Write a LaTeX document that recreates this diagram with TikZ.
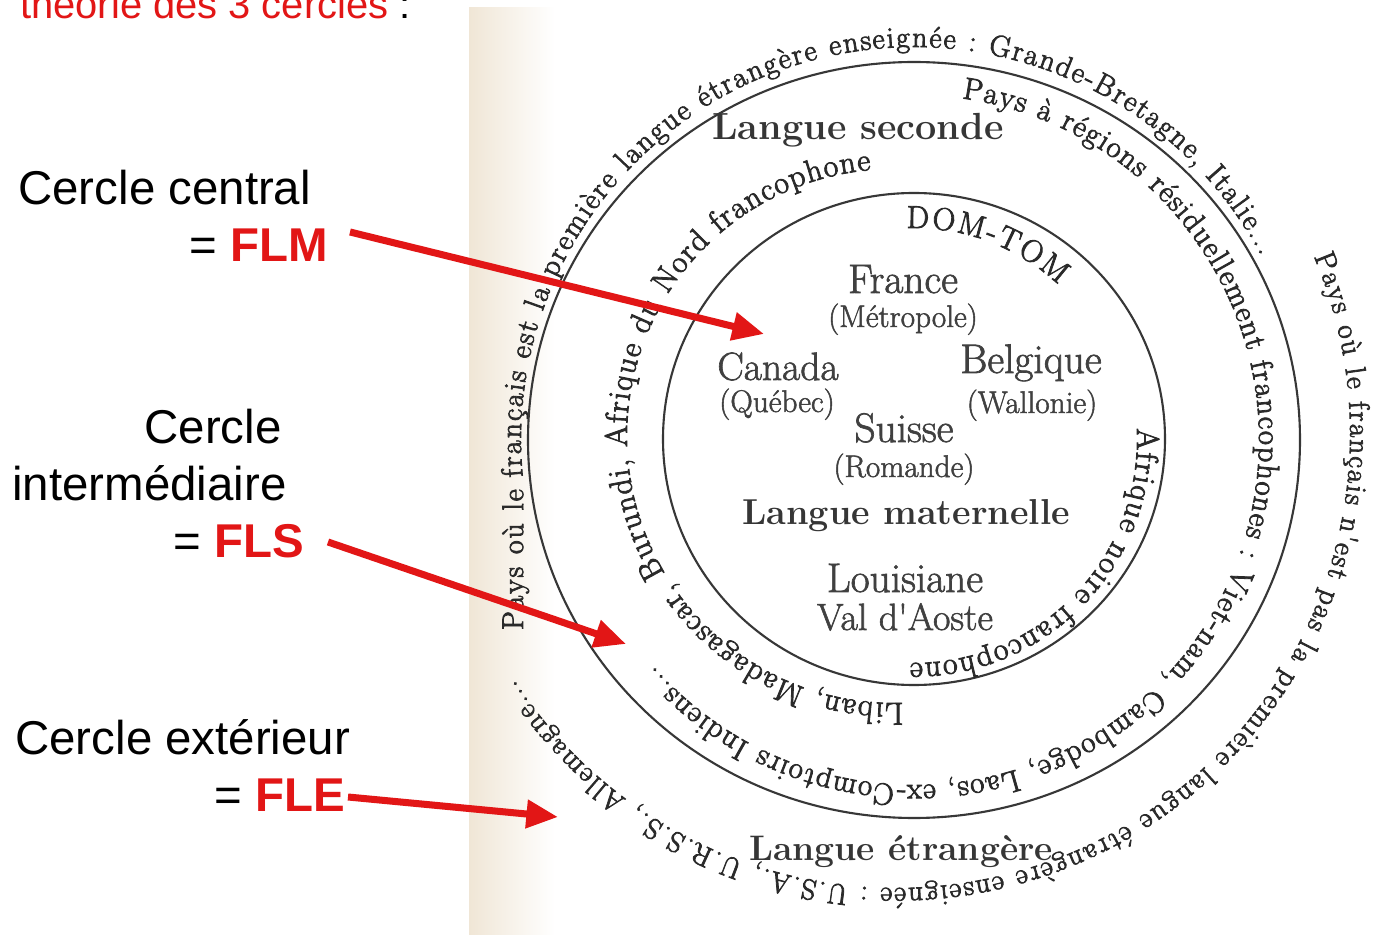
\documentclass[tikz,border=0pt]{standalone}
\usepackage{fontspec}
\newfontfamily\arialf{Liberation Sans}
\newfontfamily\scanrm{Latin Modern Roman}[FakeBold=1.6]
\newfontfamily\rtA{Latin Modern Roman}[Scale=1.7, FakeBold=2.6]
\newfontfamily\rtB{Latin Modern Roman}[Scale=1.75, FakeBold=2.6]
\newfontfamily\rtC{Latin Modern Roman}[Scale=1.8, FakeBold=2.6]
\newfontfamily\rtD{Latin Modern Roman}[Scale=1.65, FakeBold=2.6]
\usetikzlibrary{decorations.text, arrows.meta}
\definecolor{redA}{RGB}{226,22,22}
\definecolor{scantext}{RGB}{64,64,64}
\definecolor{ringgray}{RGB}{42,42,42}
\definecolor{scanline}{RGB}{55,55,55}
\definecolor{beige}{RGB}{240,230,214}
\tikzset{
 lbl/.style={font=\arialf\fontsize{27}{32}\selectfont, inner sep=0pt, text=black},
 redarrow/.style={draw=redA, line width=4pt, -{Triangle[length=18pt, width=15.5pt]}},
 place/.style={inner sep=0pt, text=scantext, anchor=base, font=\scanrm\fontsize{22.5}{25}\selectfont},
 paren/.style={inner sep=0pt, text=scantext, anchor=base, font=\scanrm\fontsize{17.8}{20}\selectfont},
 ltitle/.style={inner sep=0pt, text=scantext!85!black, anchor=base, font=\normalfont\bfseries\fontsize{20.5}{24}\selectfont},
 ring/.style={draw=scanline, line width=1.2pt},
 ringtext/.style={decorate, decoration={text along path, text align={fit to path}, text color=ringgray, text={#1}}},
}
\begin{document}
\begin{tikzpicture}[x=0.02cm, y=0.02cm]
\clip (0,0) rectangle (1387,-935);
\fill[white] (0,0) rectangle (1387,-935);
\shade[left color=beige, right color=white] (469,-8) rectangle (555,-935);

% left labels
\node[lbl, anchor=base west, font=\arialf\fontsize{22.7}{26}\selectfont, text=redA] (title) at (20,-19) {théorie des 3 cercles \textcolor{black}{:}};
\node[lbl, anchor=base west] (c1) at (18,-205) {Cercle central};
\node[lbl, anchor=base east] (flm) at (328,-262) {= \textcolor{redA}{\bfseries FLM}};
\node[lbl, anchor=base east] (c2a) at (282,-444) {Cercle};
\node[lbl, anchor=base west] (c2b) at (12,-501) {intermédiaire};
\node[lbl, anchor=base east] (fls) at (304,-558) {= \textcolor{redA}{\bfseries FLS}};
\node[lbl, anchor=base west] (c3) at (15,-755) {Cercle extérieur};
\node[lbl, anchor=base east] (fle) at (345,-811) {= \textcolor{redA}{\bfseries FLE}};

% circles and ring texts
\begin{scope}[shift={(914,-440)}]
\draw[ring] (0,0) ellipse [x radius=386, y radius=378];
\draw[ring] (0,1) ellipse [x radius=251, y radius=246];
\path[ringtext={|\rtA|Pays où le français est la première langue étrangère enseignée : Grande-Bretagne, Italie...}]
  (-391,-190) -- (186:393) arc[start angle=186, end angle=28, radius=393];
\path[ringtext={|\rtB|Pays à régions résiduellement francophones : Viet-nam, Cambodge, Laos, ex-Comptoirs Indiens...}]
  (82:345) arc[start angle=82, end angle=-139, radius=345];
\path[ringtext={|\rtC|DOM-TOM}]
  (92:212) arc[start angle=92, end angle=47, radius=212];
\path[ringtext={|\rtC|Afrique noire francophone}]
  (3:223) arc[start angle=3, end angle=-91, radius=223];
\end{scope}
\begin{scope}[shift={(894,-436)}]
\path[ringtext={|\rtC|Liban, Madagascar, Burundi, Afrique du Nord francophone}]
  (-88:267) arc[start angle=-88, end angle=-265, radius=267];
\end{scope}
\begin{scope}[shift={(896,-434)}]
\path[ringtext={|\rtD|Pays où le français n'est pas la première langue étrangère enseignée : U.S.A., U.R.S.S., Allemagne...}]
  (23:454) arc[start angle=23, end angle=-147, radius=454];
\end{scope}

% horizontal labels
\node[ltitle, font=\normalfont\bfseries\fontsize{21.5}{24}\selectfont] (ls) at (858,-140) {Langue seconde};
\node[place, font=\scanrm\fontsize{23.5}{25}\selectfont] (france) at (903,-293) {France};
\node[paren] (metro) at (903,-327) {(Métropole)};
\node[place] (canada) at (778,-380) {Canada};
\node[paren] (quebec) at (777,-412) {(Québec)};
\node[place, font=\scanrm\fontsize{23.5}{25}\selectfont] (belg) at (1031,-373) {Belgique};
\node[paren] (wall) at (1032,-413) {(Wallonie)};
\node[place, font=\scanrm\fontsize{23.5}{25}\selectfont] (suisse) at (904,-442) {Suisse};
\node[paren] (rom) at (904,-477) {(Romande)};
\node[ltitle] (lm) at (906,-525) {Langue maternelle};
\node[place, font=\scanrm\fontsize{23.5}{25}\selectfont] (lou) at (905,-592) {Louisiane};
\node[place, font=\scanrm\fontsize{21.6}{25}\selectfont] (val) at (905,-630) {Val d'Aoste};
\node[ltitle, font=\normalfont\bfseries\fontsize{20.2}{24}\selectfont] (le) at (901,-860) {Langue étrangère};

% red arrows
\coordinate (flmS) at (350,-232);
\coordinate (flmT) at (764,-334);
\coordinate (flsS) at (328,-542);
\coordinate (flsT) at (626,-644);
\coordinate (fleS) at (348,-797);
\coordinate (fleT) at (558,-817);
\draw[redarrow] (flmS) -- (flmT);
\draw[redarrow] (flsS) -- (flsT);
\draw[redarrow] (fleS) -- (fleT);
\end{tikzpicture}
\end{document}
